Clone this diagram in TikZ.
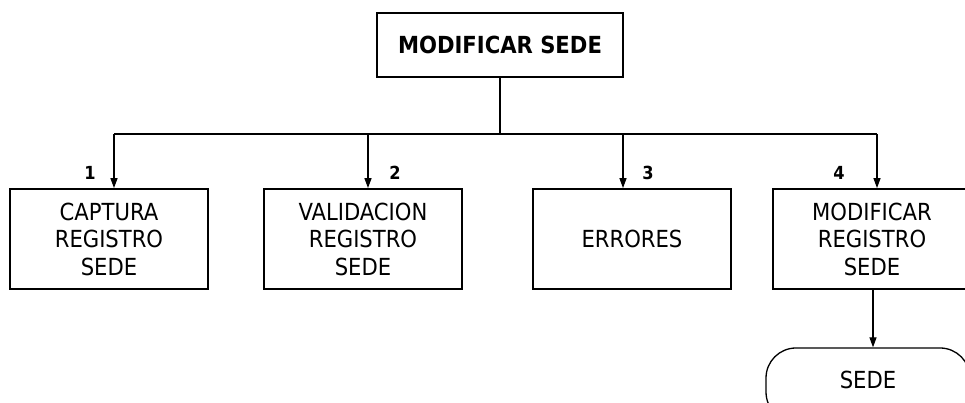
\documentclass[tikz,border=0pt]{standalone}
\usepackage{fontspec}
\setmainfont{DejaVu Sans Condensed}
\usepackage{tikz}
\usetikzlibrary{positioning,arrows.meta,calc}

\begin{document}
\begin{tikzpicture}[x=1pt,y=1pt,
  caja/.style={draw,line width=1.8pt,minimum width=198pt,minimum height=100pt,align=center,inner sep=0pt,font=\fontsize{23.5}{27.5}\selectfont},
  titulo/.style={draw,line width=1.8pt,minimum width=246pt,minimum height=64pt,inner sep=0pt,font=\fontsize{23.5}{28}\selectfont\bfseries},
  term/.style={draw,line width=1.3pt,rounded corners=30pt,minimum width=204pt,minimum height=74pt,inner sep=0pt,text depth=10pt,font=\fontsize{23.5}{27.5}\selectfont},
  num/.style={font=\fontsize{18}{20}\selectfont\bfseries,inner sep=0pt},
  arr/.style={-{Triangle[length=10pt,width=7pt]},line width=1.3pt}]
  \useasboundingbox (0,0) rectangle (965,403);
  \node[titulo] (title) at (500,358) {MODIFICAR SEDE};
  \node[caja] (cap) at (109,164) {CAPTURA\\REGISTRO\\SEDE};
  \node[caja] (val) at (363,164) {VALIDACION\\REGISTRO\\SEDE};
  \node[caja] (err) at (632,164) {ERRORES};
  \node[caja] (mod) at (872,164) {MODIFICAR\\REGISTRO\\SEDE};
  \node[term] (sede) at (868,18) {SEDE};
  % bus
  \coordinate (b1) at (114,269);
  \coordinate (b2) at (368,269);
  \coordinate (b3) at (623,269);
  \coordinate (b4) at (877,269);
  \draw[line width=1.3pt] (title.south) -- (title.south |- b1);
  \draw[line width=1.3pt] (b1) -- (b4);
  \draw[arr] (b1) -- (b1 |- cap.north);
  \draw[arr] (b2) -- (b2 |- val.north);
  \draw[arr] (b3) -- (b3 |- err.north);
  \draw[arr] (b4) -- (b4 |- mod.north);
  \draw[arr] ([xshift=1pt]mod.south) -- ([xshift=1pt]mod.south |- sede.north);
  \node[num] (n1) at (90,230) {1};
  \node[num] (n2) at (395,230) {2};
  \node[num] (n3) at (648,230) {3};
  \node[num] (n4) at (839,230) {4};
\end{tikzpicture}
\end{document}
